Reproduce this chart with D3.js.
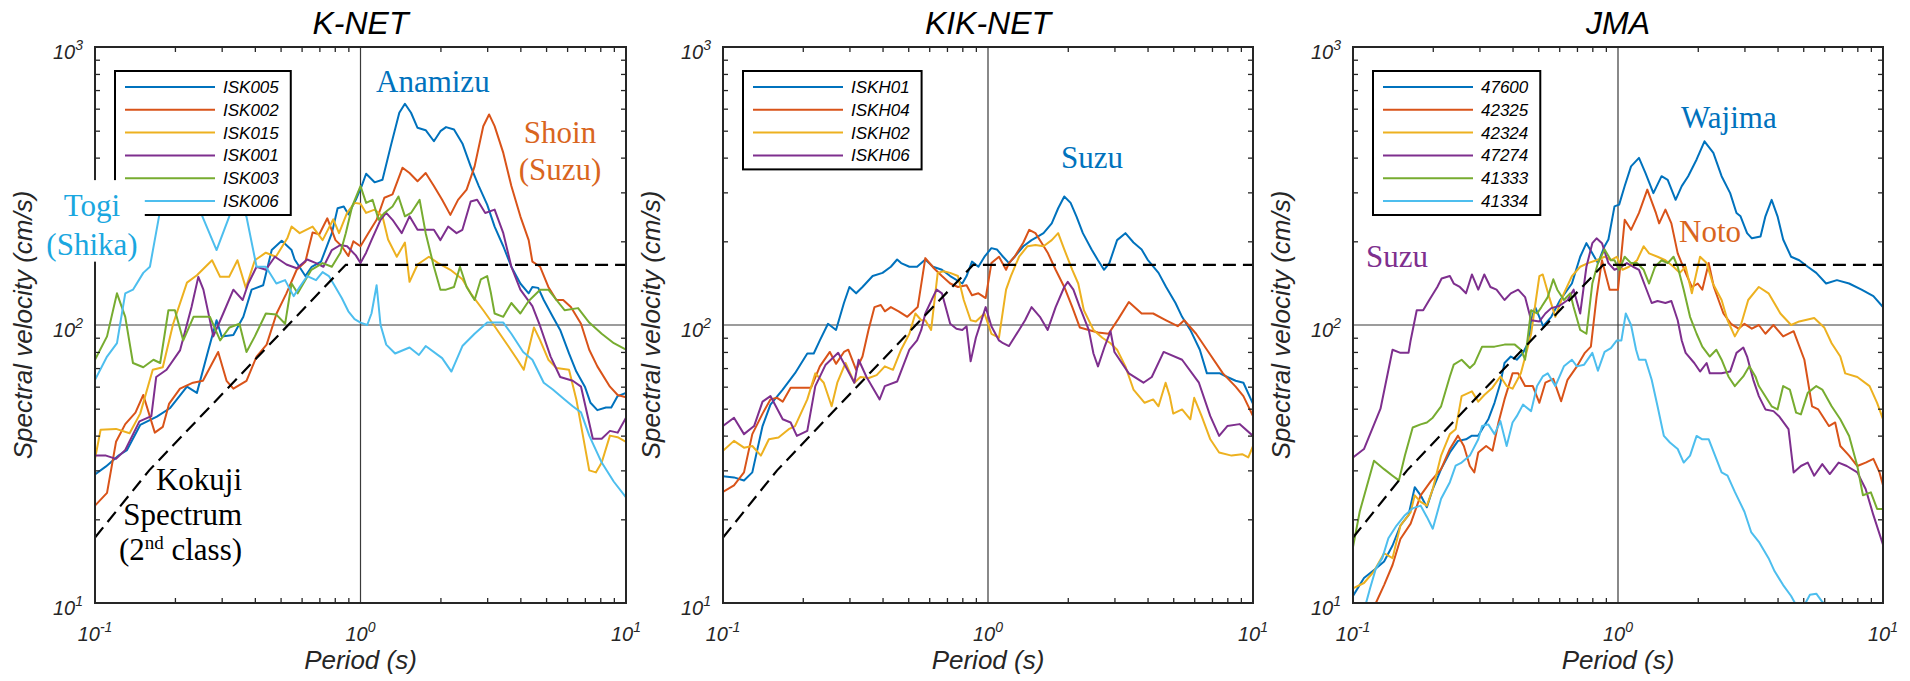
<!DOCTYPE html>
<html>
<head>
<meta charset="utf-8">
<script src="https://cdn.jsdelivr.net/npm/d3@7"></script>
<style>
  body { margin: 0; background: #fff; }
  text { font-family: "Liberation Sans", Arial, sans-serif; }
  .serif { font-family: "Liberation Serif", "Times New Roman", serif; }
</style>
</head>
<body>
<svg id="chart" width="1910" height="681"></svg>
<script>
// Velocity response spectra (h=5%): [period s, Sv cm/s]

// ---- K-NET ----
const isk005 = [[0.1,29],[0.11,31],[0.123,34],[0.132,35.5],[0.148,43.7],[0.171,46.8],[0.192,50.3],[0.222,60],[0.242,57],[0.267,81],[0.287,104],[0.30,91],[0.332,92],[0.362,107],[0.389,134],[0.43,139],[0.463,186],[0.505,201],[0.55,186],[0.565,172],[0.62,150],[0.655,162],[0.71,169],[0.78,214],[0.82,263],[0.865,267],[0.90,250],[0.96,282],[1.01,316],[1.05,350],[1.13,326],[1.21,333],[1.30,440],[1.40,580],[1.47,625],[1.55,580],[1.64,512],[1.76,502],[1.89,458],[2.0,498],[2.1,515],[2.25,505],[2.42,450],[2.6,372],[2.79,316],[3.0,271],[3.2,226],[3.45,192],[3.7,162],[4.0,141],[4.3,130],[4.44,137],[4.67,136],[4.9,123],[5.3,107],[5.65,96],[6.1,79],[6.5,68],[7.0,60],[7.35,52.5],[7.8,49.4],[8.4,50.5],[8.8,50.5],[9.3,55.5],[10,57]];
const isk002 = [[0.1,22.4],[0.111,24.9],[0.12,38],[0.13,44],[0.142,48.4],[0.152,56],[0.168,41],[0.18,43],[0.19,52],[0.209,59],[0.234,62],[0.255,63],[0.291,80],[0.313,63],[0.332,59],[0.372,63],[0.406,77],[0.443,85],[0.483,110],[0.526,130],[0.575,158],[0.62,169],[0.66,215],[0.7,212],[0.75,242],[0.805,202],[0.85,192],[0.9,177],[0.94,200],[1.0,192],[1.07,214],[1.15,239],[1.23,287],[1.32,295],[1.44,368],[1.53,352],[1.64,329],[1.76,352],[1.89,316],[2.03,282],[2.18,249],[2.33,282],[2.51,307],[2.69,372],[2.9,519],[3.05,572],[3.2,519],[3.45,416],[3.7,316],[4.0,246],[4.3,202],[4.44,169],[4.75,162],[5.1,137],[5.47,123],[5.8,123],[6.2,116],[6.77,101],[7.27,81.5],[7.8,71],[8.7,60],[9.3,56],[10,55]];
const isk015 = [[0.1,33],[0.105,42],[0.12,42.3],[0.135,40.8],[0.148,48],[0.165,69],[0.18,70.5],[0.197,101],[0.222,142],[0.242,151],[0.276,171],[0.296,149],[0.32,149],[0.344,171],[0.37,136],[0.4,171],[0.44,182],[0.48,176],[0.53,205],[0.55,226],[0.59,214],[0.66,226],[0.72,202],[0.79,240],[0.83,214],[0.89,253],[0.95,275],[1.0,273],[1.05,253],[1.13,260],[1.21,246],[1.27,203],[1.37,176],[1.47,198],[1.53,143],[1.64,165],[1.81,176],[1.96,167],[2.18,158],[2.42,146],[2.6,130],[2.9,113],[3.2,99],[3.6,84],[3.9,75],[4.12,69],[4.5,98],[4.75,88],[5.1,75],[5.47,70],[6.1,69],[6.5,54],[7.27,30],[7.7,29.5],[8.1,32],[8.7,40],[9.3,39.5],[10,38]];
const isk001 = [[0.1,33.9],[0.11,33.9],[0.12,33],[0.13,35.5],[0.147,45],[0.163,47],[0.17,65],[0.186,69],[0.209,81],[0.231,116],[0.245,149],[0.256,134],[0.279,91],[0.304,110],[0.332,134],[0.36,123],[0.378,141],[0.406,162],[0.44,158],[0.476,176],[0.526,165],[0.575,160],[0.63,172],[0.68,167],[0.725,162],[0.78,186],[0.84,194],[0.89,192],[0.96,178],[1.0,167],[1.05,182],[1.1,202],[1.19,239],[1.25,253],[1.32,239],[1.43,214],[1.53,246],[1.64,220],[1.76,220],[1.89,220],[2.0,202],[2.14,226],[2.3,214],[2.42,220],[2.6,278],[2.75,282],[2.95,253],[3.2,260],[3.45,214],[3.7,162],[4.0,134],[4.44,117],[4.75,99],[5.2,77],[5.65,65],[6.3,63],[6.77,60],[7.5,39],[8.1,39],[8.7,41.6],[9.3,41],[10,46.4]];
const isk003 = [[0.1,75],[0.111,91],[0.121,130],[0.13,107],[0.139,73],[0.152,70.5],[0.166,75],[0.176,73],[0.189,113],[0.2,113],[0.215,88],[0.235,107],[0.271,107],[0.296,88],[0.321,98],[0.35,101],[0.372,80],[0.4,91],[0.44,110],[0.482,109],[0.52,101],[0.55,141],[0.58,130],[0.653,158],[0.72,167],[0.78,162],[0.84,182],[0.88,214],[0.93,267],[1.0,316],[1.05,275],[1.11,282],[1.17,239],[1.23,253],[1.32,267],[1.39,290],[1.47,246],[1.55,253],[1.67,282],[1.76,214],[1.89,162],[2.0,134],[2.1,134],[2.25,137],[2.37,162],[2.51,137],[2.69,123],[2.84,146],[3.0,150],[3.1,130],[3.2,110],[3.45,107],[3.7,120],[4.0,110],[4.3,122],[4.75,134],[5.1,134],[5.47,123],[5.87,113],[6.6,115],[7.27,102],[8.1,93],[9.0,86],[10,81.5]];
const isk006 = [[0.1,63.5],[0.111,77],[0.121,86],[0.13,130],[0.139,134],[0.152,154],[0.161,162],[0.176,259],[0.19,300],[0.21,280],[0.23,300],[0.248,259],[0.287,186],[0.32,245],[0.345,290],[0.372,245],[0.406,162],[0.44,162],[0.482,141],[0.52,145],[0.56,127],[0.59,137],[0.63,150],[0.68,145],[0.72,155],[0.76,150],[0.8,138],[0.85,125],[0.9,112],[0.95,105],[1.0,102],[1.06,100],[1.1,110],[1.15,139],[1.19,100],[1.25,85],[1.35,79],[1.53,83],[1.66,78],[1.76,84],[2.03,76],[2.2,68],[2.42,84],[2.69,93],[3.0,102],[3.45,102],[3.7,93],[4.1,80],[4.44,75],[4.9,62],[5.3,58.6],[5.87,54],[6.3,51],[6.77,48.5],[7.27,40],[8.1,32],[9.0,27.3],[10,24]];

// ---- KiK-net ----
const iskh01 = [[0.1,28.6],[0.11,28.3],[0.12,27.6],[0.129,29.5],[0.141,43.3],[0.151,51.7],[0.168,58.6],[0.187,67.1],[0.208,79],[0.22,79],[0.232,88],[0.249,101],[0.267,96],[0.286,120],[0.3,137],[0.318,130],[0.336,137],[0.367,150],[0.4,154],[0.43,162],[0.454,172],[0.47,167],[0.505,162],[0.54,162],[0.58,172],[0.62,162],[0.67,158],[0.72,150],[0.8,141],[0.83,150],[0.87,169],[0.92,162],[0.97,176],[1.03,189],[1.08,187],[1.14,176],[1.2,167],[1.26,176],[1.36,192],[1.46,202],[1.54,208],[1.62,214],[1.74,232],[1.84,263],[1.94,290],[2.05,275],[2.16,245],[2.28,214],[2.46,187],[2.59,172],[2.74,158],[2.87,167],[3.07,202],[3.3,214],[3.54,198],[3.8,187],[4.0,172],[4.4,154],[4.7,137],[5.1,120],[5.4,107],[5.8,96],[6.3,81.5],[6.7,67],[7.5,67],[8.0,65],[8.6,63],[9.2,62],[10,52]];
const iskh04 = [[0.1,25.1],[0.11,26.5],[0.12,29.5],[0.129,40.5],[0.141,48],[0.151,54],[0.16,54.7],[0.168,53],[0.18,59.5],[0.197,59.5],[0.215,59.5],[0.232,71],[0.253,80],[0.267,72.5],[0.286,80],[0.297,81.5],[0.318,69],[0.336,77],[0.354,96],[0.373,116],[0.394,118],[0.408,112],[0.43,116],[0.46,112],[0.496,107],[0.543,116],[0.58,174],[0.625,160],[0.67,150],[0.72,141],[0.77,137],[0.83,139],[0.87,128],[0.92,130],[0.98,125],[1.03,167],[1.1,176],[1.17,158],[1.2,167],[1.26,176],[1.36,198],[1.43,220],[1.51,214],[1.59,198],[1.68,182],[1.8,158],[1.94,137],[2.08,116],[2.22,98],[2.4,96],[2.6,94],[2.85,93],[3.1,105],[3.4,121],[3.8,110],[4.2,110],[4.7,104],[5.2,99],[5.5,104],[6.1,93],[6.7,81.5],[7.7,67],[8.6,60],[9.2,55.5],[10,47]];
const iskh02 = [[0.1,35.3],[0.11,38.3],[0.12,36.2],[0.129,36.7],[0.139,33.9],[0.149,38.8],[0.162,39.4],[0.177,42.2],[0.187,43.3],[0.208,54],[0.223,67],[0.24,62],[0.257,51],[0.27,62],[0.29,73],[0.313,62],[0.33,65],[0.355,64.5],[0.38,66],[0.408,71],[0.438,69],[0.47,81.5],[0.505,93],[0.532,110],[0.56,104],[0.58,104],[0.61,96],[0.646,154],[0.68,156],[0.72,154],[0.77,150],[0.81,123],[0.86,104],[0.9,103],[0.97,110],[1.03,93],[1.1,90],[1.17,134],[1.22,150],[1.31,176],[1.41,192],[1.51,194],[1.62,192],[1.74,202],[1.84,214],[1.94,187],[2.08,158],[2.19,141],[2.3,113],[2.5,96],[2.7,90],[2.9,86],[3.07,81.5],[3.3,71],[3.54,58.6],[3.9,52.5],[4.2,54],[4.4,51],[4.68,62],[4.85,55.5],[5.0,48],[5.4,49.7],[5.8,45.8],[6.0,54.7],[6.4,47],[6.9,38.8],[7.45,34.8],[8.3,33.9],[9.1,34.3],[9.6,33.4],[10,36.7]];
const iskh06 = [[0.1,43.3],[0.11,46.4],[0.12,40.5],[0.131,43.3],[0.141,53],[0.151,55.5],[0.168,45.8],[0.18,44.6],[0.19,39.9],[0.208,41.6],[0.223,60.3],[0.244,72],[0.272,79.4],[0.29,71],[0.313,62],[0.325,75],[0.348,65],[0.39,54],[0.408,60.3],[0.454,62.6],[0.505,81.5],[0.54,88],[0.56,96],[0.58,110],[0.625,128],[0.64,134],[0.67,130],[0.72,101],[0.76,97],[0.8,96],[0.83,99],[0.86,74],[0.9,90],[0.98,116],[1.03,99],[1.1,88],[1.14,86],[1.2,84],[1.31,96],[1.38,104],[1.46,116],[1.57,107],[1.68,96],[1.8,116],[1.94,137],[2.0,143],[2.1,134],[2.22,116],[2.4,96],[2.5,79],[2.6,71],[2.76,84],[2.9,95],[3.0,80],[3.4,67],[3.86,62],[4.15,65],[4.6,80],[5.4,75],[6.25,62],[6.9,47],[7.45,39.9],[8.0,43.3],[8.9,44],[10,39.9]];

// ---- JMA ----
const jma47600 = [[0.1,10.6],[0.11,12.3],[0.122,13.3],[0.131,14.1],[0.141,16.1],[0.151,19],[0.162,20.7],[0.171,26.1],[0.18,24.4],[0.19,22.1],[0.2,25.7],[0.215,30.3],[0.232,34.8],[0.249,38.3],[0.267,38.8],[0.281,40],[0.297,40],[0.307,42.2],[0.324,45.8],[0.342,52.5],[0.36,61.9],[0.373,73],[0.394,77],[0.415,75],[0.438,79.4],[0.463,88],[0.47,104],[0.487,116],[0.522,99],[0.56,107],[0.605,123],[0.67,141],[0.72,176],[0.76,197],[0.8,181],[0.84,167],[0.89,192],[0.92,203],[0.97,267],[1.01,271],[1.06,316],[1.12,372],[1.2,399],[1.27,352],[1.36,298],[1.46,343],[1.54,333],[1.65,282],[1.74,316],[1.84,343],[1.98,394],[2.12,458],[2.29,416],[2.46,343],[2.65,298],[2.8,253],[2.9,246],[3.07,214],[3.2,205],[3.45,208],[3.6,246],[3.8,282],[4.0,246],[4.2,203],[4.5,176],[4.83,171],[5.2,162],[5.6,154],[6.1,141],[6.7,145],[7.45,141],[8.3,134],[9.2,127],[10,116]];
const jma42325 = [[0.116,9],[0.122,10],[0.131,11.6],[0.141,13.7],[0.151,17],[0.165,19.3],[0.18,24.4],[0.197,27.5],[0.215,30.3],[0.232,35.8],[0.249,40],[0.262,36.7],[0.276,31.1],[0.287,29.5],[0.297,34.8],[0.318,36.7],[0.336,35.3],[0.354,44.6],[0.373,54],[0.4,67],[0.42,67],[0.446,60.3],[0.477,60.3],[0.505,52.5],[0.532,62],[0.57,64],[0.61,53.2],[0.645,63.5],[0.7,71],[0.75,79.4],[0.79,83.6],[0.83,126],[0.87,171],[0.93,134],[1.0,134],[1.06,239],[1.12,220],[1.2,253],[1.29,307],[1.39,253],[1.43,232],[1.51,260],[1.59,232],[1.68,181],[1.8,154],[1.9,137],[2.0,141],[2.08,134],[2.2,167],[2.3,137],[2.5,110],[2.67,101],[2.85,97],[3.0,101],[3.2,97],[3.4,100],[3.6,93],[3.86,100],[4.2,91],[4.6,95],[5.05,75],[5.4,51],[5.7,49.7],[6.25,43.3],[6.6,44.6],[6.9,36.7],[7.45,33.9],[8.0,31.1],[8.6,32],[9.2,33],[9.7,29.5],[10,26.5]];
const jma42324 = [[0.1,11.3],[0.11,11.8],[0.12,13],[0.131,15.1],[0.141,14.5],[0.151,19],[0.165,21.2],[0.171,24.4],[0.18,23.1],[0.19,22.4],[0.2,25.7],[0.215,33.9],[0.232,40.5],[0.244,42.2],[0.257,55.5],[0.281,57.7],[0.297,53],[0.313,56],[0.336,59.5],[0.36,65.3],[0.38,60.3],[0.4,59],[0.43,67],[0.454,81.5],[0.47,93],[0.49,123],[0.505,150],[0.52,152],[0.55,126],[0.58,107],[0.625,130],[0.67,150],[0.72,162],[0.77,167],[0.83,171],[0.89,176],[0.94,171],[0.99,176],[1.04,158],[1.1,162],[1.18,171],[1.25,192],[1.31,181],[1.41,176],[1.51,171],[1.62,162],[1.71,154],[1.8,162],[1.9,130],[2.04,176],[2.16,167],[2.28,141],[2.46,123],[2.59,104],[2.76,91],[2.9,99],[3.1,123],[3.4,137],[3.7,130],[4.1,110],[4.5,100],[4.83,103],[5.5,106],[6.0,98],[6.4,86],[6.9,77],[7.2,67],[8.0,65],[8.9,60.3],[9.5,52.5],[10,45.8]];
const jma47274 = [[0.1,33.4],[0.11,35.8],[0.127,50],[0.141,81.5],[0.151,79.4],[0.162,79.4],[0.165,88],[0.174,113],[0.184,113],[0.194,123],[0.208,137],[0.216,147],[0.232,150],[0.24,141],[0.253,137],[0.267,130],[0.281,152],[0.297,134],[0.313,152],[0.33,137],[0.348,134],[0.373,123],[0.394,130],[0.42,134],[0.446,126],[0.47,104],[0.505,103],[0.532,110],[0.56,115],[0.6,117],[0.646,123],[0.68,134],[0.72,110],[0.76,162],[0.8,197],[0.83,205],[0.87,197],[0.92,167],[0.97,158],[1.03,162],[1.08,167],[1.14,162],[1.2,158],[1.27,137],[1.34,120],[1.41,122],[1.51,120],[1.59,122],[1.68,104],[1.74,88],[1.8,79.4],[1.94,73],[2.04,68],[2.16,73],[2.22,67],[2.46,67],[2.65,68],[2.8,79.4],[2.97,83],[3.07,77],[3.24,63.5],[3.4,55.5],[3.6,49.7],[3.86,49],[4.05,47],[4.4,42.2],[4.6,29.5],[4.9,31.1],[5.2,32],[5.5,28.7],[5.9,31.6],[6.3,29.1],[6.8,32],[7.3,31.1],[8.0,29.5],[8.6,25.7],[9.2,20.7],[10,16.2]];
const jma41333 = [[0.1,15.9],[0.106,21.3],[0.12,32.5],[0.131,30.3],[0.141,28.7],[0.149,27.6],[0.157,33.9],[0.168,42.8],[0.18,43.9],[0.19,44.6],[0.2,46.4],[0.215,51],[0.232,65.3],[0.24,72],[0.257,75],[0.276,70],[0.287,72.5],[0.307,83.6],[0.342,83.6],[0.373,85],[0.408,85],[0.43,81.5],[0.446,75],[0.47,113],[0.495,110],[0.514,116],[0.543,126],[0.57,146],[0.59,134],[0.625,123],[0.66,130],[0.68,116],[0.72,96],[0.76,93],[0.8,141],[0.84,167],[0.89,187],[0.94,171],[0.97,171],[1.01,158],[1.06,176],[1.12,167],[1.18,167],[1.25,158],[1.31,141],[1.38,162],[1.46,171],[1.54,167],[1.62,176],[1.68,162],[1.77,134],[1.87,107],[1.98,93],[2.08,83.6],[2.22,77],[2.35,81.5],[2.46,75],[2.61,65.3],[2.76,60.3],[2.97,65.3],[3.13,71],[3.3,65.3],[3.4,60.3],[3.8,51],[4.0,49.7],[4.2,60.3],[4.45,58.6],[4.7,48.4],[4.9,47.7],[5.2,57],[5.6,60.3],[5.9,58.6],[6.4,51],[6.9,45.8],[7.45,39.9],[8.0,31.1],[8.4,24.4],[9.0,25],[9.5,21.8],[10,21.8]];
const jma41334 = [[0.108,9],[0.112,10],[0.116,11.3],[0.122,13.3],[0.129,14.5],[0.136,17.1],[0.146,19],[0.157,20.7],[0.168,21.9],[0.18,22.4],[0.19,20.4],[0.2,18.5],[0.215,23.7],[0.232,27.2],[0.244,31.2],[0.257,32],[0.276,33.9],[0.297,38.8],[0.307,43.3],[0.324,43.9],[0.342,40.5],[0.36,45.1],[0.38,36.7],[0.4,44.6],[0.415,47],[0.438,51.7],[0.47,49],[0.495,60.3],[0.52,65.3],[0.543,67],[0.58,60.3],[0.625,71],[0.67,75],[0.7,71],[0.745,72],[0.8,79.4],[0.84,68.5],[0.89,80],[0.94,82.5],[0.99,88],[1.03,88],[1.07,110],[1.12,100],[1.17,81.5],[1.2,75],[1.27,75],[1.34,63.5],[1.41,51],[1.49,39.9],[1.57,37.8],[1.68,35.8],[1.77,32],[1.87,33.9],[1.98,39.9],[2.08,38.8],[2.2,38.8],[2.46,29.5],[2.59,28.7],[2.76,25.1],[3.0,21.3],[3.18,18],[3.4,16.6],[3.7,14.5],[3.9,13],[4.2,11.6],[4.5,10.6],[4.68,9.9],[4.85,9.5],[5.1,10],[5.3,10.7],[5.6,10.8],[5.9,10.1],[6.1,9.8],[6.3,9]];

// Kokuji (notification) spectrum, 2nd class soil
const kokujiPeriod = [0.1, 0.16, 0.88, 10];
const kokujiVelocity = [17.2, 30, 164.6, 164.6];

const panelTitles = ["K-NET", "KIK-NET", "JMA"];
const stationNames = [
  ["ISK005", "ISK002", "ISK015", "ISK001", "ISK003", "ISK006"],
  ["ISKH01", "ISKH04", "ISKH02", "ISKH06"],
  ["47600", "42325", "42324", "47274", "41333", "41334"]
];
const stationSeries = [
  [isk005, isk002, isk015, isk001, isk003, isk006],
  [iskh01, iskh04, iskh02, iskh06],
  [jma47600, jma42325, jma42324, jma47274, jma41333, jma41334]
];

// place-name annotations, anchored in data space [period, velocity]
const annotations = [
  [
    { text: "Anamizu", T: 1.144, v: 689, anchor: "start", color: 0 },
    { text: "Shoin", T: 5.64, v: 451, anchor: "middle", color: 1 },
    { text: "(Suzu)", T: 5.64, v: 332, anchor: "middle", color: 1 },
    { text: "Togi", T: 0.0974, v: 247, anchor: "middle", color: 5 },
    { text: "(Shika)", T: 0.0974, v: 179, anchor: "middle", color: 5 },
    { text: "Kokuji", T: 0.358, v: 25.5, anchor: "end", color: -1 },
    { text: "Spectrum", T: 0.358, v: 19.1, anchor: "end", color: -1 },
    { text: "(2|nd| class)", T: 0.358, v: 14.3, anchor: "end", color: -1 }
  ],
  [
    { text: "Suzu", T: 1.886, v: 367, anchor: "start", color: 0 }
  ],
  [
    { text: "Wajima", T: 1.729, v: 511, anchor: "start", color: 0 },
    { text: "Noto", T: 1.699, v: 199, anchor: "start", color: 1 },
    { text: "Suzu", T: 0.112, v: 162, anchor: "start", color: 3 }
  ]
];

const xMinorTicks = [0.2, 0.3, 0.4, 0.5, 0.6, 0.7, 0.8, 0.9, 2, 3, 4, 5, 6, 7, 8, 9];
const yMinorTicks = [20, 30, 40, 50, 60, 70, 80, 90, 200, 300, 400, 500, 600, 700, 800, 900];
const xTickLabels = [{ v: 0.1, exp: "-1" }, { v: 1, exp: "0" }, { v: 10, exp: "1" }];
const yTickLabels = [{ v: 10, exp: "1" }, { v: 100, exp: "2" }, { v: 1000, exp: "3" }];

const lineColors = ["#0072BD", "#D95319", "#EDB120", "#7E2F8E", "#77AC30", "#4DBEEE"];
const textColors = ["#0072BD", "#D9651E", "#EDB120", "#7E2F8E", "#77AC30", "#1AA7E0"];

const svg = d3.select("#chart");
const panelLeft = [95, 723, 1353];
const panelWidth = [531, 530, 530];
const plotTop = 47, innerHeight = 556;
const axisColor = "#262626";

panelTitles.forEach((title, i) => {
  const w = panelWidth[i];
  const h = innerHeight;
  const g = svg.append("g").attr("transform", `translate(${panelLeft[i]},${plotTop})`);

  const x = d3.scaleLog().domain([0.1, 10]).range([0, w]);
  const y = d3.scaleLog().domain([10, 1000]).range([h, 0]);

  g.append("clipPath").attr("id", `clip${i}`)
    .append("rect").attr("width", w).attr("height", h);

  // reference lines at 1 s and 100 cm/s
  g.append("line")
    .attr("x1", x(1)).attr("x2", x(1)).attr("y1", 0).attr("y2", h)
    .attr("stroke", "#3a3a3a").attr("stroke-width", 1.2);
  g.append("line")
    .attr("x1", 0).attr("x2", w).attr("y1", y(100)).attr("y2", y(100))
    .attr("stroke", "#3a3a3a").attr("stroke-width", 1.2);

  const line = d3.line().x(d => x(d[0])).y(d => y(d[1]));
  const plot = g.append("g").attr("clip-path", `url(#clip${i})`);

  plot.selectAll(".spec")
    .data(stationSeries[i])
    .join("path")
    .attr("d", line)
    .attr("fill", "none")
    .attr("stroke", (d, k) => lineColors[k])
    .attr("stroke-width", 2)
    .attr("stroke-linejoin", "round");

  plot.append("path")
    .attr("d", line(kokujiPeriod.map((t, k) => [t, kokujiVelocity[k]])))
    .attr("fill", "none")
    .attr("stroke", "#000")
    .attr("stroke-width", 2.2)
    .attr("stroke-dasharray", "13,7");

  // inward minor ticks on all four sides
  const tickStyle = sel => {
    sel.select(".domain").remove();
    sel.selectAll(".tick line").attr("stroke", axisColor).attr("stroke-width", 1.3);
  };
  g.append("g").attr("transform", `translate(0,${h})`)
    .call(d3.axisBottom(x).tickValues(xMinorTicks).tickSize(-5).tickFormat("")).call(tickStyle);
  g.append("g")
    .call(d3.axisTop(x).tickValues(xMinorTicks).tickSize(-5).tickFormat("")).call(tickStyle);
  g.append("g")
    .call(d3.axisLeft(y).tickValues(yMinorTicks).tickSize(-5).tickFormat("")).call(tickStyle);
  g.append("g").attr("transform", `translate(${w},0)`)
    .call(d3.axisRight(y).tickValues(yMinorTicks).tickSize(-5).tickFormat("")).call(tickStyle);

  g.append("rect")
    .attr("width", w).attr("height", h)
    .attr("fill", "none").attr("stroke", axisColor).attr("stroke-width", 2);

  // tick labels 10^n
  const power = (sel, exp) => {
    sel.append("tspan").text("10");
    sel.append("tspan").attr("dy", -9).attr("font-size", 14).text(exp);
  };
  xTickLabels.forEach(t => {
    g.append("text")
      .attr("x", x(t.v)).attr("y", h + 38)
      .attr("text-anchor", "middle")
      .attr("font-size", 20).attr("font-style", "italic").attr("fill", axisColor)
      .call(power, t.exp);
  });
  yTickLabels.forEach(t => {
    g.append("text")
      .attr("x", -12).attr("y", y(t.v) + 12)
      .attr("text-anchor", "end")
      .attr("font-size", 20).attr("font-style", "italic").attr("fill", axisColor)
      .call(power, t.exp);
  });

  // titles and axis labels
  g.append("text")
    .attr("x", w / 2).attr("y", -13)
    .attr("text-anchor", "middle")
    .attr("font-size", 32).attr("font-style", "italic").attr("fill", "#000")
    .text(title);
  g.append("text")
    .attr("x", w / 2).attr("y", h + 66)
    .attr("text-anchor", "middle")
    .attr("font-size", 26).attr("font-style", "italic").attr("fill", axisColor)
    .text("Period (s)");
  g.append("text")
    .attr("transform", `translate(-63,${h / 2}) rotate(-90)`)
    .attr("text-anchor", "middle")
    .attr("font-size", 26).attr("font-style", "italic").attr("fill", axisColor)
    .text("Spectral velocity (cm/s)");

  // legend
  const names = stationNames[i];
  const rowH = 22.8;
  const lg = g.append("g").attr("transform", "translate(20,24)");
  const box = lg.append("rect")
    .attr("fill", "#fff").attr("stroke", "#000").attr("stroke-width", 2);
  names.forEach((name, k) => {
    const yy = 16 + k * rowH;
    lg.append("line")
      .attr("x1", 10).attr("x2", 100).attr("y1", yy).attr("y2", yy)
      .attr("stroke", lineColors[k]).attr("stroke-width", 2);
    lg.append("text")
      .attr("class", "lgtext")
      .attr("x", 108).attr("y", yy + 6)
      .attr("font-size", 17).attr("font-style", "italic").attr("fill", "#000")
      .text(name);
  });
  let maxLen = 0;
  lg.selectAll(".lgtext").each(function () { maxLen = Math.max(maxLen, this.getComputedTextLength()); });
  box.attr("width", 108 + maxLen + 12).attr("height", 16 + (names.length - 1) * rowH + 14);

  // annotations
  annotations[i].forEach(a => {
    const fill = a.color < 0 ? "#000" : textColors[a.color];
    if (a.text === "Togi") {
      // white patch that the label sits on (hides the axis there)
      g.append("rect")
        .attr("x", x(0.062)).attr("y", y(332))
        .attr("width", x(0.154) - x(0.062)).attr("height", y(169) - y(332))
        .attr("fill", "#fff");
    }
    const t = g.append("text")
      .attr("class", "serif")
      .attr("x", x(a.T)).attr("y", y(a.v))
      .attr("text-anchor", a.anchor)
      .attr("font-size", 31).attr("fill", fill);
    const parts = a.text.split("|");
    if (parts.length === 3) {
      t.append("tspan").text(parts[0]);
      t.append("tspan").attr("dy", -11).attr("font-size", 19).text(parts[1]);
      t.append("tspan").attr("dy", 11).text(parts[2]);
    } else {
      t.text(a.text);
    }
  });
});
</script>
</body>
</html>
